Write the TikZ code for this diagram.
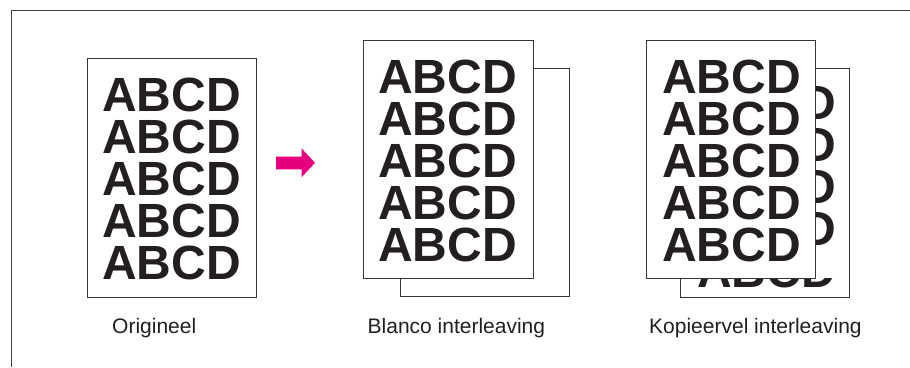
\documentclass[tikz,border=0pt]{standalone}
\usepackage{fontspec}
\setmainfont{Liberation Sans}
\definecolor{mag}{RGB}{230,0,126}
\definecolor{ink}{RGB}{35,31,32}
\begin{document}
\begin{tikzpicture}[x=1pt,y=-1pt,
  sheet/.style={draw=ink!90, line width=0.8pt, fill=white, inner sep=0pt, anchor=north west},
  big/.style={font=\bfseries\fontsize{48}{48}\selectfont, inner sep=0pt, anchor=base west, text=ink},
  lab/.style={font=\fontsize{21}{21}\selectfont, inner sep=0pt, anchor=base west, text=ink},
  frameline/.style={line width=1.5pt, draw=ink!85}]
\useasboundingbox (0,0) rectangle (910,367);
% partial frame
\coordinate (fr) at (910,10.5);
\coordinate (fc) at (11.5,10.5);
\coordinate (fb) at (11.5,367);
\draw[frameline] (fr) -- (fc) -- (fb);

% Origineel
\node[sheet, minimum width=169pt, minimum height=239pt] (orig) at (87,58) {};
\foreach \i in {0,...,4} \node[big] (o\i) at (102,111+42*\i) {ABCD};
\node[lab] (lorig) at (112,333) {Origineel};

% arrow
\fill[mag] (276,156.7) -- (301.5,156.7) -- (301.5,148.3) -- (315,162.8)
  -- (301.5,177.3) -- (301.5,169.3) -- (276,169.3) -- cycle;

% Blanco interleaving
\node[sheet, minimum width=169pt, minimum height=228pt] (bback) at (400,68) {};
\node[sheet, minimum width=170pt, minimum height=238pt] (bfront) at (363,40) {};
\foreach \i in {0,...,4} \node[big] (b\i) at (378,93+42*\i) {ABCD};
\node[lab] (lblanco) at (367.5,333) {Blanco interleaving};

% Kopieervel interleaving
\node[sheet, minimum width=169pt, minimum height=229pt] (kback) at (680,68) {};
% back sheet: only the D's of the first four lines show past the front sheet
\foreach \i in {0,...,3} \node[big] (kb\i) at (800.97,119+42*\i) {D};
\begin{scope}
  \clip (680,278.5) rectangle (850,297);
  \node[big] (kb4) at (697,287) {ABCD};
\end{scope}
\node[sheet, minimum width=169pt, minimum height=238pt] (kfront) at (646,40) {};
\foreach \i in {0,...,4} \node[big] (kf\i) at (662,93+42*\i) {ABCD};
\node[lab] (lkopie) at (649,333) {Kopieervel interleaving};
\end{tikzpicture}
\end{document}
